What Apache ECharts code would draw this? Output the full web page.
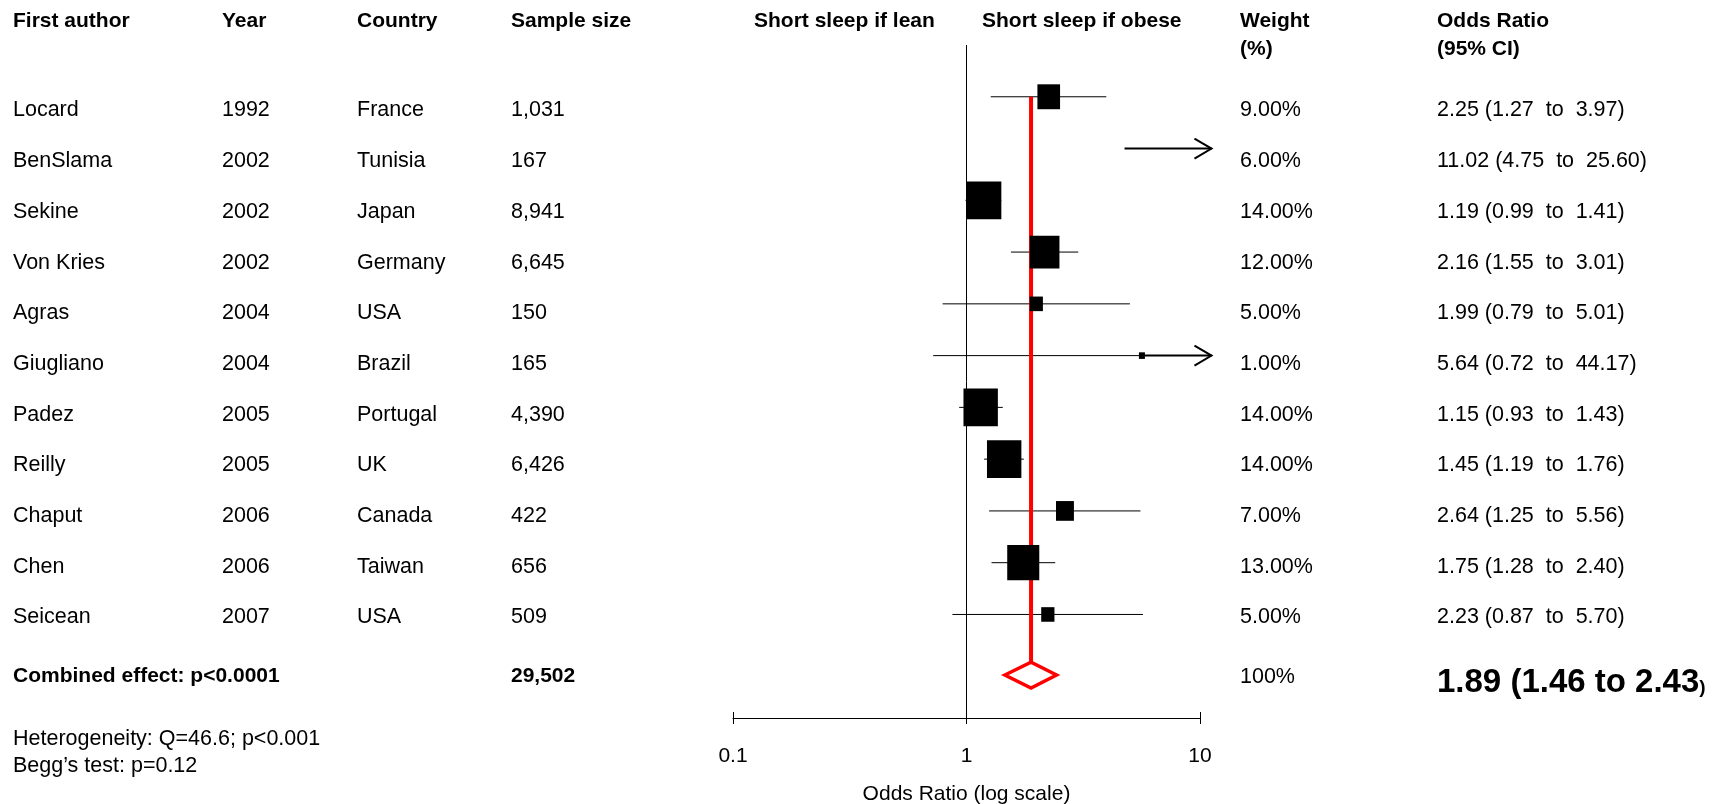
<!DOCTYPE html>
<html>
<head>
<meta charset="utf-8">
<script src="https://cdn.jsdelivr.net/npm/echarts@6/dist/echarts.min.js"></script>
<style>
  html, body { margin: 0; padding: 0; background: #ffffff; }
  #chart { width: 1714px; height: 804px; }
</style>
</head>
<body>
<div id="chart"></div>
<script>
const authors = ["Locard", "BenSlama", "Sekine", "Von Kries", "Agras", "Giugliano", "Padez", "Reilly", "Chaput", "Chen", "Seicean"];
const years = ["1992", "2002", "2002", "2002", "2004", "2004", "2005", "2005", "2006", "2006", "2007"];
const countries = ["France", "Tunisia", "Japan", "Germany", "USA", "Brazil", "Portugal", "UK", "Canada", "Taiwan", "USA"];
const sampleSizes = ["1,031", "167", "8,941", "6,645", "150", "165", "4,390", "6,426", "422", "656", "509"];
const weights = [9, 6, 14, 12, 5, 1, 14, 14, 7, 13, 5];
const oddsRatios = [2.25, 11.02, 1.19, 2.16, 1.99, 5.64, 1.15, 1.45, 2.64, 1.75, 2.23];
const ciLower = [1.27, 4.75, 0.99, 1.55, 0.79, 0.72, 0.93, 1.19, 1.25, 1.28, 0.87];
const ciUpper = [3.97, 25.60, 1.41, 3.01, 5.01, 44.17, 1.43, 1.76, 5.56, 2.40, 5.70];

const pooledOR = 1.89;
const pooledLower = 1.46;
const pooledUpper = 2.43;
const pooledSample = "29,502";
const pooledWeight = "100%";

const xMin = 0.1;
const xMax = 10;
const arrowEnd = 11.2; // where the off-scale arrows stop

const FONT = "'Liberation Sans', Arial, sans-serif";
const NORMAL = "21.5px " + FONT;
const BOLD = "bold 21px " + FONT;

const chart = echarts.init(document.getElementById("chart"));

const diamondRow = 11.17;
const diamondHalf = 0.25;

function fmt(v) {
  return v.toFixed(2);
}

function squareSize(w) {
  const s = Math.max(6, 1.5 + 2.35 * w);
  return [s, s * 1.1];
}

function txt(x, y, text, font) {
  return {
    type: "text",
    x: x,
    y: y,
    style: {
      text: text,
      fill: "#000",
      font: font || NORMAL,
      verticalAlign: "middle",
      align: "left"
    }
  };
}

chart.setOption({
  backgroundColor: "#ffffff",
  animation: false,
  grid: { left: 733, width: 467, top: 45, height: 673, outerBoundsMode: "none" },
  xAxis: [
    {
      type: "log",
      logBase: 10,
      min: xMin,
      max: xMax,
      position: "bottom",
      axisLine: { onZero: false, lineStyle: { color: "#000", width: 1 } },
      axisTick: { show: true, length: 6, lineStyle: { color: "#000" } },
      axisLabel: { color: "#000", fontSize: 21, fontFamily: FONT, margin: 28 },
      splitLine: { show: false },
      name: "Odds Ratio (log scale)",
      nameLocation: "middle",
      nameGap: 66,
      nameTextStyle: { color: "#000", fontSize: 21, fontFamily: FONT }
    },
    {
      type: "log",
      logBase: 10,
      min: xMin,
      max: xMax,
      position: "bottom",
      offset: 0,
      axisLine: { show: false, onZero: false },
      axisTick: { show: true, inside: true, length: 6, lineStyle: { color: "#000" } },
      axisLabel: { show: false },
      splitLine: { show: false }
    }
  ],
  yAxis: [
    {
      type: "value",
      inverse: true,
      min: -1,
      max: 12,
      show: false
    },
    {
      // rows of the text table
      type: "value",
      inverse: true,
      min: -1.292,
      max: 11.982,
      show: false
    }
  ],
  series: [
    {
      // reference line at OR = 1
      type: "custom",
      z: 1,
      data: [[1]],
      renderItem: function (params, api) {
        const p0 = api.coord([1, -1]);
        const p1 = api.coord([1, 12]);
        return {
          type: "line",
          shape: { x1: p0[0], y1: p0[1], x2: p1[0], y2: p1[1] },
          style: { stroke: "#000", lineWidth: 1 }
        };
      }
    },
    {
      // confidence intervals
      type: "custom",
      z: 2,
      clip: false,
      data: authors.map((_, i) => [i, ciLower[i], ciUpper[i], oddsRatios[i]]),
      renderItem: function (params, api) {
        const i = api.value(0);
        const lo = api.value(1);
        const hi = api.value(2);
        const or = api.value(3);
        const y = api.coord([1, i])[1];
        const xLo = api.coord([lo, i])[0];
        const children = [];
        const arrow = function (xa, xb) {
          children.push({
            type: "line",
            shape: { x1: xa, y1: y, x2: xb, y2: y },
            style: { stroke: "#000", lineWidth: 2 }
          });
          children.push({
            type: "polyline",
            shape: { points: [[xb - 17, y - 10], [xb, y], [xb - 17, y + 10]] },
            style: { stroke: "#000", lineWidth: 2, fill: null }
          });
        };
        if (hi <= xMax) {
          const xHi = api.coord([hi, i])[0];
          children.push({
            type: "line",
            shape: { x1: xLo, y1: y, x2: xHi, y2: y },
            style: { stroke: "#000", lineWidth: 1 }
          });
        } else if (or <= xMax) {
          const xOr = api.coord([or, i])[0];
          children.push({
            type: "line",
            shape: { x1: xLo, y1: y, x2: xOr, y2: y },
            style: { stroke: "#000", lineWidth: 1 }
          });
          arrow(xOr, api.coord([arrowEnd, i])[0]);
        } else {
          arrow(xLo, api.coord([arrowEnd, i])[0]);
        }
        return { type: "group", children: children };
      }
    },
    {
      // pooled estimate: vertical line and diamond
      type: "custom",
      z: 3,
      clip: false,
      data: [[pooledOR, pooledLower, pooledUpper]],
      renderItem: function (params, api) {
        const or = api.value(0);
        const lo = api.value(1);
        const hi = api.value(2);
        const top = api.coord([or, 0]);
        const dTop = api.coord([or, diamondRow - diamondHalf]);
        const dBot = api.coord([or, diamondRow + diamondHalf]);
        const dL = api.coord([lo, diamondRow]);
        const dR = api.coord([hi, diamondRow]);
        return {
          type: "group",
          children: [
            {
              type: "line",
              shape: { x1: top[0], y1: top[1], x2: dTop[0], y2: dTop[1] },
              style: { stroke: "#ff0000", lineWidth: 4 }
            },
            {
              type: "polygon",
              z2: 10,
              shape: { points: [dL, dTop, dR, dBot] },
              style: { stroke: "#ff0000", lineWidth: 3.5, fill: "#ffffff" }
            }
          ]
        };
      }
    },
    {
      // study estimates
      type: "scatter",
      z: 4,
      symbol: "rect",
      data: authors.map((_, i) => [oddsRatios[i], i, weights[i]]).filter(d => d[0] <= xMax),
      symbolSize: function (val) {
        return squareSize(val[2]);
      },
      itemStyle: { color: "#000", opacity: 1 },
      emphasis: { disabled: true }
    },
    {
      // table text
      type: "custom",
      yAxisIndex: 1,
      z: 5,
      clip: false,
      data: authors.map((_, i) => [1, i]),
      encode: { x: 0, y: 1 },
      renderItem: function (params, api) {
        const i = params.dataIndex;
        const y = api.coord([1, api.value(1)])[1];
        return {
          type: "group",
          children: [
            txt(13, y, authors[i]),
            txt(222, y, years[i]),
            txt(357, y, countries[i]),
            txt(511, y, sampleSizes[i]),
            txt(1240, y, weights[i].toFixed(2) + "%"),
            txt(1437, y, fmt(oddsRatios[i]) + " (" + fmt(ciLower[i]) + "  to  " + fmt(ciUpper[i]) + ")")
          ]
        };
      }
    }
  ],
  graphic: [
    txt(13, 21, "First author", BOLD),
    txt(222, 21, "Year", BOLD),
    txt(357, 21, "Country", BOLD),
    txt(511, 21, "Sample size", BOLD),
    txt(754, 21, "Short sleep if lean", BOLD),
    txt(982, 21, "Short sleep if obese", BOLD),
    txt(1240, 21, "Weight", BOLD),
    txt(1240, 49, "(%)", BOLD),
    txt(1437, 21, "Odds Ratio", BOLD),
    txt(1437, 49, "(95% CI)", BOLD),
    txt(13, 676, "Combined effect: p<0.0001", BOLD),
    txt(511, 676, pooledSample, BOLD),
    txt(1240, 677, pooledWeight),
    {
      type: "text",
      x: 1437,
      y: 683,
      style: {
        text: "{a|" + fmt(pooledOR) + " (" + fmt(pooledLower) + " to " + fmt(pooledUpper) + "}{b|)}",
        verticalAlign: "middle",
        align: "left",
        rich: {
          a: { fontSize: 33, fontWeight: "bold", fontFamily: FONT, fill: "#000", verticalAlign: "middle", lineHeight: 36 },
          b: { fontSize: 19, fontWeight: "bold", fontFamily: FONT, fill: "#000", verticalAlign: "middle", padding: [9, 0, 0, 0] }
        }
      }
    },
    txt(13, 739, "Heterogeneity: Q=46.6; p<0.001"),
    txt(13, 766, "Begg\u2019s test: p=0.12")
  ]
});
</script>
</body>
</html>
